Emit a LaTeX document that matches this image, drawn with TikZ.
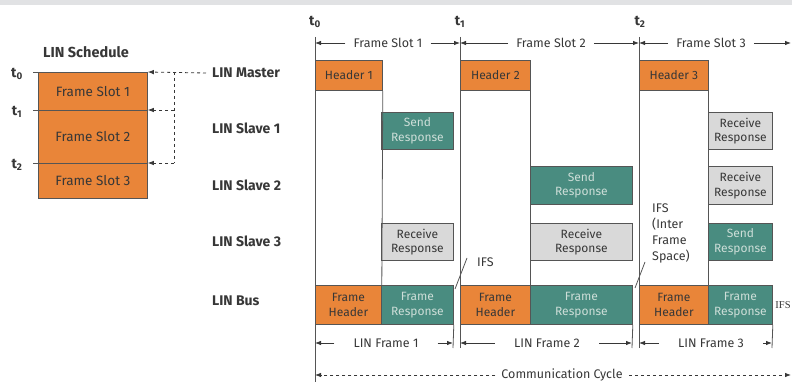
\documentclass[tikz,border=0pt]{standalone}
\usepackage{fontspec}
\setmainfont{Fira Sans}
\newfontfamily\serifF{Liberation Serif}
\usetikzlibrary{arrows.meta}
\definecolor{lorange}{RGB}{233,133,57}
\definecolor{lteal}{RGB}{73,140,128}
\definecolor{lgray}{RGB}{217,217,217}
\definecolor{lborder}{RGB}{85,85,85}
\definecolor{ltext}{RGB}{55,55,55}
\definecolor{lband}{RGB}{225,226,228}
\definecolor{tealtext}{RGB}{205,222,216}
\begin{document}
\begin{tikzpicture}[x=1pt,y=-1pt,
  box/.style={draw=lborder, line width=0.8pt, anchor=north west, inner sep=0pt, align=center, font=\fontsize{12}{14.5}\selectfont},
  obox/.style={box, fill=lorange, text=ltext},
  tbox/.style={box, fill=lteal, text=tealtext},
  gbox/.style={box, fill=lgray, text=ltext},
  lbl/.style={font=\fontsize{14}{16}\selectfont\bfseries, text=ltext, anchor=west, inner sep=0pt},
  tlab/.style={font=\fontsize{14}{16}\selectfont\bfseries, text=ltext, inner sep=0pt},
  vline/.style={draw=lborder, line width=0.8pt},
  arr/.style={-{Latex[length=6pt,width=4.5pt]}, line width=0.8pt, draw=ltext},
  slot/.style={font=\fontsize{12.5}{14}\selectfont, text=ltext, inner ysep=0pt, inner xsep=8pt},
  frm/.style={font=\fontsize{12.5}{14}\selectfont, text=ltext, inner ysep=0pt, inner xsep=19pt},
  note/.style={font=\fontsize{12.5}{16}\selectfont, text=ltext, inner sep=0pt},
]
\useasboundingbox (0,0) rectangle (792,382);
\fill[lband] (0,0) rectangle (792,5);

% ---------- left: schedule ----------
\node[font=\fontsize{14.5}{16}\selectfont\bfseries, text=ltext] (sched) at (86,52) {LIN Schedule};
\node[obox, minimum width=109pt, minimum height=38pt, font=\fontsize{13.5}{15}\selectfont] (sl1) at (38,72) {Frame Slot 1};
\node[obox, minimum width=109pt, minimum height=53pt, font=\fontsize{13.5}{15}\selectfont] (sl2) at (38,110) {Frame Slot 2};
\node[obox, minimum width=109pt, minimum height=35pt, font=\fontsize{13.5}{15}\selectfont] (sl3) at (38,163) {Frame Slot 3};
\coordinate (tl0) at (33,72);
\coordinate (tl1) at (33,110);
\coordinate (tl2) at (33,163);
\draw[vline] (tl0) -- (sl1.north west);
\draw[vline] (tl1) -- (sl2.north west);
\draw[vline] (tl2) -- (sl3.north west);
\node[tlab] (lt0) at (17,74) {t\textsubscript{0}};
\node[tlab] (lt1) at (17,112) {t\textsubscript{1}};
\node[tlab] (lt2) at (17,165) {t\textsubscript{2}};

% ---------- row labels ----------
\node[lbl] (master) at (212,73) {LIN Master};
\node[lbl] (slave1) at (212,128) {LIN Slave 1};
\node[lbl] (slave2) at (212,185) {LIN Slave 2};
\node[lbl] (slave3) at (212,241) {LIN Slave 3};
\node[lbl] (bus) at (212,301) {LIN Bus};

% dashed schedule pointers
\coordinate (vx0) at (174,72);
\coordinate (vx1) at (174,110);
\coordinate (vx2) at (174,163);
\draw[arr, dashed] ([xshift=-6pt]master.west) -- (sl1.north east);
\draw[dashed, line width=0.8pt, ltext] (vx0) -- (vx2);
\draw[arr, dashed] (vx1) -- (sl2.north east);
\draw[arr, dashed] (vx2) -- (sl3.north east);

% ---------- time markers ----------
\node[tlab] (T0) at (315,22) {t\textsubscript{0}};
\node[tlab] (T1) at (460,22) {t\textsubscript{1}};
\node[tlab] (T2) at (640,22) {t\textsubscript{2}};
\coordinate (t0a) at (315,37);
\coordinate (t0b) at (315,382);
\coordinate (t1a) at (460,37);
\coordinate (t1b) at (460,348);
\coordinate (t2a) at (639,37);
\coordinate (t2b) at (639,348);
\coordinate (e1) at (453,348);
\coordinate (e2) at (632,348);
\coordinate (e3) at (772,348);

% ---------- vertical lines (under boxes) ----------
\draw[vline] (t0a) -- (t0b);
\draw[vline] (t1a) -- (t1b);
\draw[vline] (t2a) -- (t2b);

% ---------- boxes ----------
\node[obox, minimum width=67pt, minimum height=30pt] (h1) at (315,60) {Header 1};
\node[obox, minimum width=70pt, minimum height=30pt] (h2) at (460,60) {Header 2};
\node[obox, minimum width=69pt, minimum height=30pt] (h3) at (639,60) {Header 3};

\node[tbox, minimum width=72pt, minimum height=37pt] (s1a) at (381,112) {Send\\Response};
\node[gbox, minimum width=64pt, minimum height=37pt] (s1c) at (708,112) {Receive\\Response};
\node[tbox, minimum width=102pt, minimum height=38pt] (s2b) at (530,166) {Send\\Response};
\node[gbox, minimum width=64pt, minimum height=38pt] (s2c) at (708,166) {Receive\\Response};
\node[gbox, minimum width=72pt, minimum height=37pt] (s3a) at (381,223) {Receive\\Response};
\node[gbox, minimum width=102pt, minimum height=37pt] (s3b) at (530,223) {Receive\\Response};
\node[tbox, minimum width=64pt, minimum height=37pt] (s3c) at (708,223) {Send\\Response};

\node[obox, minimum width=66pt, minimum height=39pt] (b1h) at (315,285) {Frame\\Header};
\node[tbox, minimum width=72pt, minimum height=39pt] (b1r) at (381,285) {Frame\\Response};
\node[obox, minimum width=70pt, minimum height=39pt] (b2h) at (460,285) {Frame\\Header};
\node[tbox, minimum width=102pt, minimum height=39pt] (b2r) at (530,285) {Frame\\Response};
\node[obox, minimum width=69pt, minimum height=39pt] (b3h) at (639,285) {Frame\\Header};
\node[tbox, minimum width=64pt, minimum height=39pt] (b3r) at (708,285) {Frame\\Response};

\draw[vline] (h1.south east) -- (b1h.north east);
\draw[vline] (h2.south east) -- (b2h.north east);
\draw[vline] (h3.south east) -- (b3h.north east);
\draw[vline] (b1r.south east) -- (e1);
\draw[vline] (b2r.south east) -- (e2);
\draw[vline] (b3r.south east) -- (e3);

% ---------- frame slot arrows ----------
\coordinate (a0) at (315,43);
\coordinate (a1) at (460,43);
\coordinate (a2) at (639,43);
\coordinate (a3) at (791,43);
\node[slot] (fs1) at (388,43) {Frame Slot 1};
\node[slot] (fs2) at (551,43) {Frame Slot 2};
\node[slot] (fs3) at (711,43) {Frame Slot 3};
\draw[arr] (fs1.west) -- (a0);
\draw[arr] (fs1.east) -- (a1);
\draw[arr] (fs2.west) -- (a1);
\draw[arr] (fs2.east) -- (a2);
\draw[arr] (fs3.west) -- (a2);
\draw[arr] (fs3.east) -- (a3);

% ---------- LIN frame arrows ----------
\coordinate (f0) at (315,343);
\coordinate (f1) at (453,343);
\coordinate (f1b) at (460,343);
\coordinate (f2) at (632,343);
\coordinate (f2b) at (639,343);
\coordinate (f3) at (772,343);
\node[frm] (lf1) at (386,343) {LIN Frame 1};
\node[frm] (lf2) at (547,343) {LIN Frame 2};
\node[frm] (lf3) at (711,343) {LIN Frame 3};
\draw[arr] (lf1.west) -- (f0);
\draw[arr] (lf1.east) -- (f1);
\draw[arr] (lf2.west) -- (f1b);
\draw[arr] (lf2.east) -- (f2);
\draw[arr] (lf3.west) -- (f2b);
\draw[arr] (lf3.east) -- (f3);

% ---------- communication cycle ----------
\coordinate (c0) at (315,375);
\coordinate (c1) at (791,375);
\node[slot, inner xsep=6pt] (cc) at (562,375) {Communication Cycle};
\draw[arr, dashed] (cc.west) -- (c0);
\draw[arr, dashed] (cc.east) -- (c1);

% ---------- IFS notes ----------
\node[note, anchor=west] (ifs1) at (477,262) {IFS};
\coordinate (g1) at (455,289);
\draw[vline] (g1) -- (467,258);
\node[note, anchor=north west, align=left] (ifs2) at (652,204) {IFS\\(Inter\\Frame\\Space)};
\coordinate (g2) at (635,288);
\draw[vline] (g2) -- (645,262);
\node[font=\serifF\fontsize{10.5}{12}\selectfont, text=ltext, inner sep=0pt] (ifs3) at (783,305) {IFS};
\end{tikzpicture}
\end{document}
